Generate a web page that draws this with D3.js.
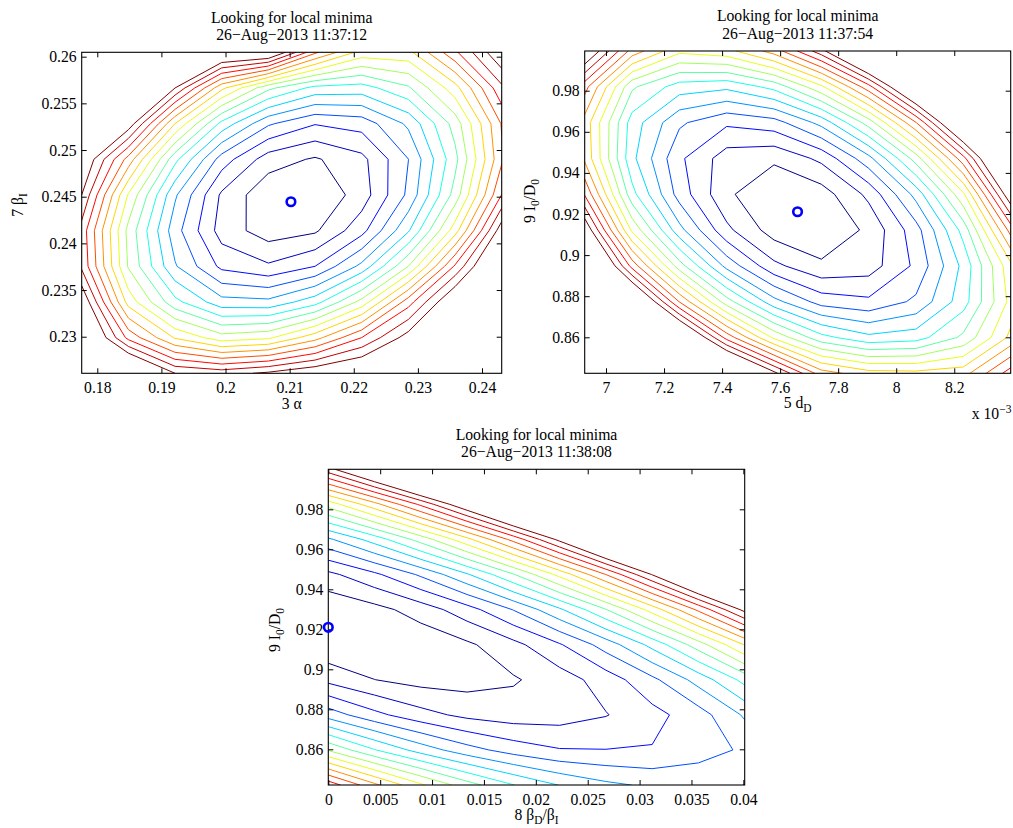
<!DOCTYPE html>
<html>
<head>
<meta charset="utf-8">
<script src="https://cdn.jsdelivr.net/npm/d3@7"></script>
<style>
  body { margin: 0; background: #fff; }
  svg text { font-family: "Liberation Serif", "Times New Roman", serif; fill: #000; }
</style>
</head>
<body>
<svg id="fig" width="1013" height="828"></svg>
<script>
// ---- contour levels (16 evenly spaced levels of the cost surface) ----
const levels = [1, 2, 3, 4, 5, 6, 7, 8, 9, 10, 11, 12, 13, 14, 15, 16];

// ---- panel A: cost over (3 alpha, 7 beta_I) ----
const alphaGrid = [0.17757, 0.18485, 0.19213, 0.19940, 0.20668, 0.21396, 0.22124, 0.22852, 0.23579, 0.24307];
const betaIGrid = [0.26047, 0.25665, 0.25283, 0.24901, 0.24519, 0.24137, 0.23755, 0.23373, 0.22990, 0.22608];
const costA = [
  [35.0, 29.0, 23.0, 17.9, 17.6, 13.2, 10.6, 10.7, 13.8, 17.0],
  [28.0, 22.2, 16.0, 11.26, 8.25, 6.68, 6.55, 7.85, 10.59, 14.77],
  [22.0, 16.7, 11.0, 6.68, 4.15, 3.06, 3.41, 5.20, 8.42, 13.08],
  [17.2, 12.6, 7.3, 3.53, 1.48, 0.88, 1.71, 3.99, 7.69, 12.83],
  [16.0, 9.9, 5.15, 1.82, 0.26, 0.14, 1.46, 4.22, 8.40, 14.03],
  [14.6, 8.7, 4.4, 1.56, 0.49, 0.85, 2.65, 5.88, 10.55, 16.66],
  [14.8, 8.9, 5.1, 2.75, 2.15, 3.00, 5.28, 9.00, 14.15, 18.7],
  [17.0, 10.6, 7.3, 5.37, 5.26, 6.59, 9.35, 13.56, 17.4, 22.0],
  [18.5, 13.7, 10.9, 9.43, 9.81, 11.61, 14.0, 16.5, 20.5, 23.0],
  [23.0, 19.0, 16.0, 15.6, 16.2, 17.0, 17.7, 20.5, 25.0, 29.0]
];
const bestA = [0.2102, 0.24446];
const alphaTicks = [0.18, 0.19, 0.20, 0.21, 0.22, 0.23, 0.24];
const betaITicks = [0.23, 0.235, 0.24, 0.245, 0.25, 0.255, 0.26];

// ---- panel B: cost over (5 d_D, 9 I0/D0) ----
const dDGrid = [0.0069266, 0.0070897, 0.0072528, 0.0074159, 0.0075790, 0.0077421, 0.0079052, 0.0080683, 0.0082314, 0.0083945];
const i0d0GridB = [0.99932, 0.98189, 0.96446, 0.94704, 0.92961, 0.91219, 0.89476, 0.87733, 0.85991, 0.84248];
const costB = [
  [17.5, 12.6, 10.24, 10.65, 12.44, 15.61, 20.14, 26.05, 33.34, 41.99],
  [13.4, 8.18, 6.52, 6.23, 7.32, 9.78, 13.62, 18.82, 25.41, 33.36],
  [11.6, 6.53, 4.17, 3.18, 3.57, 5.33, 8.46, 12.96, 18.85, 26.09],
  [11.8, 6.26, 3.19, 1.50, 1.18, 2.24, 4.67, 8.47, 13.65, 20.20],
  [13.9, 7.34, 3.57, 1.18, 0.17, 0.52, 2.25, 5.35, 9.83, 17.0],
  [17.0, 9.81, 5.34, 2.24, 0.52, 0.17, 1.20, 3.59, 7.37, 13.4],
  [20.18, 13.64, 8.46, 4.67, 2.25, 1.19, 1.52, 3.21, 6.28, 10.72],
  [26.08, 18.84, 12.96, 8.46, 5.34, 3.58, 3.21, 4.20, 6.57, 10.31],
  [33.35, 25.41, 18.82, 13.63, 9.80, 7.34, 6.26, 6.55, 8.22, 11.26],
  [41.99, 33.35, 26.06, 20.16, 16.3, 12.47, 11.4, 11.3, 11.6, 14.5]
];
const bestB = [0.00766, 0.9211];
const dDTicks = [0.0070, 0.0072, 0.0074, 0.0076, 0.0078, 0.0080, 0.0082];
const i0d0Ticks = [0.86, 0.88, 0.90, 0.92, 0.94, 0.96, 0.98];

// ---- panel C: cost over (8 beta_D/beta_I, 9 I0/D0) ----
const ratioGrid = [0, 0.004459, 0.008918, 0.013377, 0.017836, 0.022294, 0.026753, 0.031212, 0.035671, 0.04013];
const i0d0GridC = [1.0, 0.98246, 0.96492, 0.94738, 0.92984, 0.91231, 0.89477, 0.87723, 0.85969, 0.84215];
const costC = [
  [15.59, 18.39, 21.51, 24.97, 28.78, 32.90, 37.35, 42.16, 47.29, 52.74],
  [9.43, 11.64, 14.19, 17.07, 20.28, 23.83, 27.70, 31.91, 36.45, 41.32],
  [4.82, 6.44, 8.41, 10.70, 13.32, 16.29, 19.57, 23.19, 27.15, 31.44],
  [1.74, 2.79, 4.16, 5.88, 7.92, 10.30, 13.00, 16.04, 19.42, 23.13],
  [0.20, 0.66, 1.45, 2.58, 4.04, 5.83, 7.95, 10.41, 13.21, 16.32],
  [0.19, 0.07, 0.28, 0.82, 1.69, 2.90, 4.44, 6.31, 8.52, 11.05],
  [1.72, 1.01, 0.64, 0.60, 0.89, 1.51, 2.46, 3.75, 5.38, 7.33],
  [4.54, 3.28, 2.35, 1.74, 1.48, 1.55, 1.95, 2.67, 3.55, 5.14],
  [8.89, 7.05, 5.56, 4.39, 3.56, 3.06, 3.02, 3.06, 3.56, 4.15],
  [14.63, 12.23, 10.17, 8.43, 7.03, 5.96, 5.22, 4.82, 4.75, 5.01]
];
const bestC = [0, 0.921];
const ratioTicks = [0, 0.005, 0.01, 0.015, 0.02, 0.025, 0.03, 0.035, 0.04];

// MATLAB-style "jet" colour map
function jet(t) {
  const c = v => Math.round(255 * Math.max(0, Math.min(1, v)));
  return `rgb(${c(1.5 - Math.abs(4 * t - 3))},${c(1.5 - Math.abs(4 * t - 2))},${c(1.5 - Math.abs(4 * t - 1))})`;
}

const svg = d3.select("#fig");
const FONT = 15.7;
const trim = d => String(+d.toFixed(4));

// rich text: parts are [text, "sub" | "sup" | undefined]
function rich(sel, parts) {
  let shift = 0;
  parts.forEach(([t, kind]) => {
    const target = kind === "sub" ? 4 : kind === "sup" ? -6 : 0;
    sel.append("tspan")
      .attr("dy", target - shift)
      .attr("font-size", kind ? 11.5 : FONT)
      .text(t);
    shift = target;
  });
}

function drawPanel(p, idx) {
  const [L, R, T, B] = p.box;
  const n = p.xs.length, m = p.ys.length;
  const x = d3.scaleLinear().domain([p.xs[0], p.xs[n - 1]]).range([L, R]);
  const y = d3.scaleLinear().domain([p.ys[m - 1], p.ys[0]]).range([B, T]);
  // contour-grid coordinates (sample k sits at k + 0.5) -> data values
  const gi = d3.scaleLinear().domain([0.5, n - 0.5]).range([p.xs[0], p.xs[n - 1]]);
  const gj = d3.scaleLinear().domain([0.5, m - 0.5]).range([p.ys[0], p.ys[m - 1]]);

  const g = svg.append("g");
  const clipId = "clip" + idx;
  g.append("clipPath").attr("id", clipId)
    .append("rect").attr("x", L).attr("y", T).attr("width", R - L).attr("height", B - T);

  const sets = d3.contours().size([n, m]).thresholds(levels)(p.z.flat());
  const line = d3.line().x(d => x(gi(d[0]))).y(d => y(gj(d[1])));
  const cg = g.append("g").attr("clip-path", `url(#${clipId})`);
  sets.forEach(s => {
    const k = levels.indexOf(s.value);
    const d = s.coordinates.flatMap(poly => poly.map(ring => line(ring))).join("");
    cg.append("path")
      .attr("d", d)
      .attr("fill", "none")
      .attr("stroke", jet(k / (levels.length - 1)))
      .attr("stroke-width", 1)
      .attr("stroke-linejoin", "round");
  });

  // axes: inward ticks on all four sides, labels bottom/left
  const style = s => {
    s.select(".domain").remove();
    s.attr("font-family", null).attr("font-size", FONT);
    s.selectAll(".tick line").attr("stroke", "#000");
  };
  g.append("g").attr("transform", `translate(0,${B})`)
    .call(d3.axisBottom(x).tickValues(p.xTicks).tickFormat(p.xFmt).tickSizeInner(-5).tickSizeOuter(0).tickPadding(9))
    .call(style);
  g.append("g").attr("transform", `translate(0,${T})`)
    .call(d3.axisTop(x).tickValues(p.xTicks).tickFormat("").tickSizeInner(-5).tickSizeOuter(0))
    .call(style);
  g.append("g").attr("transform", `translate(${L},0)`)
    .call(d3.axisLeft(y).tickValues(p.yTicks).tickFormat(trim).tickSizeInner(-5).tickSizeOuter(0).tickPadding(5))
    .call(style);
  g.append("g").attr("transform", `translate(${R},0)`)
    .call(d3.axisRight(y).tickValues(p.yTicks).tickFormat("").tickSizeInner(-5).tickSizeOuter(0))
    .call(style);

  g.append("rect").attr("x", L).attr("y", T).attr("width", R - L).attr("height", B - T)
    .attr("fill", "none").attr("stroke", "#000").attr("stroke-width", 1.1);

  // best point
  g.append("circle")
    .attr("cx", x(p.best[0])).attr("cy", y(p.best[1])).attr("r", 4.3)
    .attr("fill", "none").attr("stroke", "#0000ff").attr("stroke-width", 2.6);

  // title
  const cx = (L + R) / 2;
  p.title.forEach((t, i) => {
    g.append("text").attr("x", cx).attr("y", T - 29.6 + i * 17.4)
      .attr("text-anchor", "middle").attr("font-size", FONT).text(t);
  });

  // x label
  rich(g.append("text").attr("x", p.xLabelPos[0]).attr("y", p.xLabelPos[1])
    .attr("text-anchor", "middle").attr("font-size", FONT), p.xLabel);

  // y label (rotated)
  rich(g.append("text")
    .attr("transform", `translate(${p.yLabelPos[0]},${p.yLabelPos[1]}) rotate(-90)`)
    .attr("text-anchor", "middle").attr("font-size", FONT), p.yLabel);

  if (p.exponent) {
    rich(g.append("text").attr("x", p.exponent[0]).attr("y", p.exponent[1]).attr("font-size", FONT),
      [["x 10"], ["\u22123", "sup"]]);
  }
}

drawPanel({
  box: [81.7, 501.7, 52.3, 373.3],
  xs: alphaGrid, ys: betaIGrid, z: costA, best: bestA,
  xTicks: alphaTicks, yTicks: betaITicks, xFmt: trim,
  title: ["Looking for local minima", "26\u2212Aug\u22122013 11:37:12"],
  xLabel: [["3 \u03b1"]], xLabelPos: [291.7, 409],
  yLabel: [["7 \u03b2"], ["I", "sub"]], yLabelPos: [23, 205]
}, 0);

drawPanel({
  box: [584.7, 1010.7, 51, 373.3],
  xs: dDGrid, ys: i0d0GridB, z: costB, best: bestB,
  xTicks: dDTicks, yTicks: i0d0Ticks, xFmt: d => String(+(d * 1000).toFixed(2)),
  title: ["Looking for local minima", "26\u2212Aug\u22122013 11:37:54"],
  xLabel: [["5 d"], ["D", "sub"]], xLabelPos: [797.7, 408],
  yLabel: [["9 I"], ["0", "sub"], ["/D"], ["0", "sub"]], yLabelPos: [535, 201],
  exponent: [971.7, 418.5]
}, 1);

drawPanel({
  box: [328.3, 744.7, 469.3, 785],
  xs: ratioGrid, ys: i0d0GridC, z: costC, best: bestC,
  xTicks: ratioTicks, yTicks: i0d0Ticks, xFmt: trim,
  title: ["Looking for local minima", "26\u2212Aug\u22122013 11:38:08"],
  xLabel: [["8 \u03b2"], ["D", "sub"], ["/\u03b2"], ["I", "sub"]], xLabelPos: [536.5, 820],
  yLabel: [["9 I"], ["0", "sub"], ["/D"], ["0", "sub"]], yLabelPos: [280, 630]
}, 2);
</script>
</body>
</html>
